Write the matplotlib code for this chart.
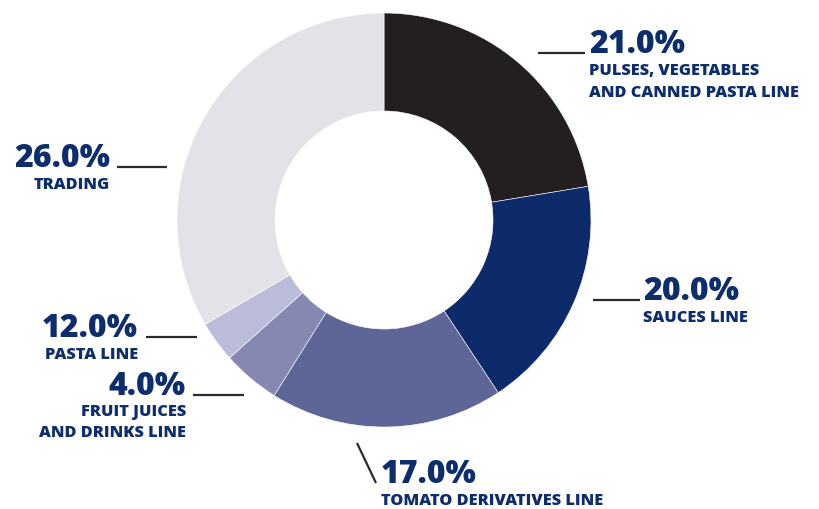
import matplotlib
matplotlib.use('Agg')
from matplotlib import pyplot as plt

# wedge sizes as drawn, clockwise from 12 o'clock
segments = ['pulses', 'sauces', 'tomato', 'juices', 'pasta', 'trading']
sizes = [22.4, 18.3, 18.2, 4.5, 3.2, 33.4]
colors = ['#231f20', '#0d2a6b', '#5d6696', '#8589b2', '#babcd9', '#e2e3e8']

# label texts as printed
pcts = ['21.0%', '20.0%', '17.0%', '4.0%', '12.0%', '26.0%']
names = ['PULSES, VEGETABLES\nAND CANNED PASTA LINE', 'SAUCES LINE',
         'TOMATO DERIVATIVES LINE', 'FRUIT JUICES\nAND DRINKS LINE',
         'PASTA LINE', 'TRADING']

W, H = 819, 509
txt_col = '#0e2d6d'
line_col = '#2b2b2b'
fam = ['Open Sans', 'DejaVu Sans']

fig = plt.figure(figsize=(W / 100, H / 100), dpi=100)
ax = fig.add_axes([0, 0, 1, 1])

cx, cy, R = 384, 220, 207
ax.pie(sizes, colors=colors, startangle=90, counterclock=False,
       center=(cx, H - cy), radius=R,
       wedgeprops=dict(width=98, edgecolor='white', linewidth=0.4))
ax.set_xlim(0, W)
ax.set_ylim(0, H)
ax.set_aspect('equal')
ax.axis('off')

def label(i, x, y, ha, sub_dy=22):
    ax.text(x, H - y, pcts[i], ha=ha, va='baseline', fontsize=23,
            fontweight='heavy', color=txt_col, family=fam)
    for k, ln in enumerate(names[i].split('\n')):
        ax.text(x, H - (y + sub_dy * (k + 1)), ln, ha=ha, va='baseline',
                fontsize=11.8, fontweight='heavy', color=txt_col, family=fam)

def leader(x0, y0, x1, y1):
    ax.plot([x0, x1], [H - y0, H - y1], color=line_col, lw=1.6,
            solid_capstyle='butt')

# right side
leader(538, 53, 585, 53)
label(0, 589, 53, 'left')
leader(593, 300, 640, 300)
label(1, 643, 300, 'left')
leader(357, 443, 376, 483)
label(2, 381, 483, 'left')
# left side
leader(193, 395, 244, 395)
label(3, 186, 395, 'right', sub_dy=21)
leader(146, 337, 197, 337)
label(4, 138, 337, 'right')
leader(117, 167, 167, 167)
label(5, 110, 167, 'right')

fig.savefig('out.png', dpi=100)
plt.close()
